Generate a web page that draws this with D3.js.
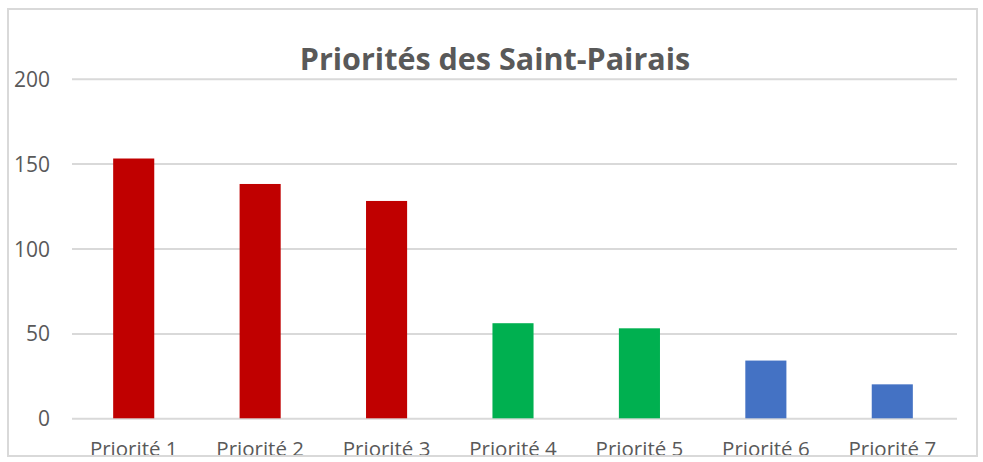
<!DOCTYPE html>
<html>
<head>
<meta charset="utf-8">
<script src="https://cdn.jsdelivr.net/npm/d3@7"></script>
<style>
	body { margin: 0; background: #fff; }
	svg text { font-family: 'Open Sans', sans-serif; fill: #595959; }
</style>
</head>
<body>
<div id="vis"></div>
<script>
// DATA
let categories = ['Priorité 1', 'Priorité 2', 'Priorité 3', 'Priorité 4', 'Priorité 5', 'Priorité 6', 'Priorité 7'];
let values = [153, 138, 128, 56, 53, 34, 20];
let barColors = ['#c00000', '#c00000', '#c00000', '#00b050', '#00b050', '#4472c4', '#4472c4'];
let yTicks = [0, 50, 100, 150, 200];
let title = 'Priorités des Saint-Pairais';

// PARAMETERS
let width = 983,
	height = 462,
	frame = { left: 8, top: 9, right: 977, bottom: 456 },
	plot = { left: 72, right: 957, top: 78.7, bottom: 418.3 };

// SCALES
let x = d3
		.scaleBand()
		.domain(categories)
		.range([plot.left - 1.5, plot.right - 1.5])
		.paddingInner(0.675)
		.paddingOuter(0.3375),
	y = d3
		.scaleLinear()
		.domain([0, 200])
		.range([plot.bottom, plot.top]);

// SVG
let svg = d3
	.select('#vis')
	.append('svg')
	.attr('width', width)
	.attr('height', height);

svg
	.append('clipPath')
	.attr('id', 'frame-clip')
	.append('rect')
	.attr('x', frame.left)
	.attr('y', frame.top)
	.attr('width', frame.right - frame.left)
	.attr('height', frame.bottom - frame.top);

let chart = svg.append('g').attr('clip-path', 'url(#frame-clip)');

// GRIDLINES
let yAxis = d3
	.axisLeft(y)
	.tickValues(yTicks)
	.tickSize(-(plot.right - plot.left))
	.tickPadding(22)
	.tickFormat(d3.format('d'));

chart
	.append('g')
	.attr('transform', `translate(${plot.left}, 0)`)
	.call(yAxis)
	.call(g => g.select('.domain').remove())
	.call(g => g.selectAll('.tick line').attr('stroke', '#d9d9d9').attr('stroke-width', 2))
	.call(g =>
		g
			.selectAll('.tick text')
			.attr('font-size', 21)
			.attr('font-family', null)
			.attr('dy', '0.36em')
	);

// BARS
chart
	.selectAll('rect.bar')
	.data(values)
	.enter()
	.append('rect')
	.attr('class', 'bar')
	.attr('x', (d, i) => x(categories[i]))
	.attr('y', d => y(d))
	.attr('width', x.bandwidth())
	.attr('height', d => y(0) - y(d))
	.attr('fill', (d, i) => barColors[i]);

// X AXIS
let xAxis = d3.axisBottom(x).tickSize(0).tickPadding(0);

chart
	.append('g')
	.attr('transform', `translate(0, ${plot.bottom})`)
	.call(xAxis)
	.call(g => g.select('.domain').remove())
	.call(g =>
		g
			.selectAll('.tick text')
			.attr('font-size', 20.5)
			.attr('font-family', null)
			.attr('y', 38)
			.attr('dy', 0)
	);

// TITLE
chart
	.append('text')
	.attr('x', 495)
	.attr('y', 70)
	.attr('text-anchor', 'middle')
	.attr('font-size', 30.5)
	.attr('font-weight', 'bold')
	.text(title);

// FRAME
svg
	.append('rect')
	.attr('x', frame.left)
	.attr('y', frame.top)
	.attr('width', frame.right - frame.left)
	.attr('height', frame.bottom - frame.top)
	.attr('fill', 'none')
	.attr('stroke', '#d9d9d9')
	.attr('stroke-width', 2);
</script>
</body>
</html>
